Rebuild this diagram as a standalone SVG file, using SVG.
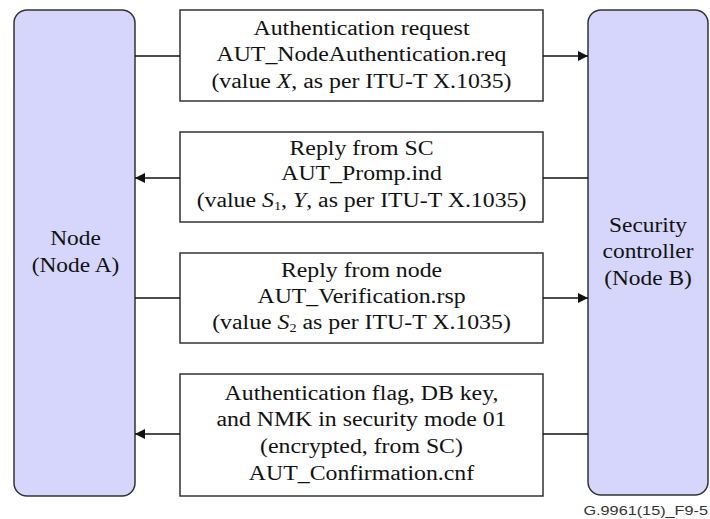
<svg xmlns="http://www.w3.org/2000/svg" width="710" height="519" viewBox="0 0 710 519">
<style>
.node{fill:#d6d6fc;stroke:#333;stroke-width:1.5}
.box{fill:#fff;stroke:#333;stroke-width:1.5}
.t{font-family:"Liberation Serif","Times New Roman",serif;font-size:20px;fill:#111;text-anchor:middle}
.c{stroke:#111;stroke-width:1.5;fill:none}
.sub{font-size:12px}
.foot{font-family:"Liberation Sans",Arial,sans-serif;font-size:12.5px;fill:#333;text-anchor:end}
</style>
<defs>
<marker id="arr" viewBox="0 0 10 10" refX="10" refY="5" markerWidth="10" markerHeight="10" markerUnits="userSpaceOnUse" orient="auto">
<path d="M0,0 L10,5 L0,10 z" fill="#111"/>
</marker>
</defs>
<g id="nodeA">
<rect class="node" x="14" y="10" width="121" height="486" rx="13"/>
<g transform="translate(75.5,0) scale(1.17,1)">
<text class="t" x="0" y="245">Node</text>
<text class="t" x="0" y="272">(Node A)</text>
</g>
</g>
<g id="nodeB">
<rect class="node" x="588" y="10" width="120" height="485" rx="13"/>
<g transform="translate(648,0) scale(1.17,1)">
<text class="t" x="0" y="232">Security</text>
<text class="t" x="0" y="258">controller</text>
<text class="t" x="0" y="285">(Node B)</text>
</g>
</g>
<g id="msg1">
<rect class="box" x="180" y="10" width="363" height="91"/>
<g transform="translate(361.5,0) scale(1.19,1)">
<text class="t" x="0" y="35">Authentication request</text>
<text class="t" x="0" y="61">AUT_NodeAuthentication.req</text>
<text class="t" x="0" y="88">(value <tspan font-style="italic">X</tspan>, as per ITU-T X.1035)</text>
</g>
</g>
<g id="msg2">
<rect class="box" x="180" y="132" width="363" height="90"/>
<g transform="translate(361.5,0) scale(1.19,1)">
<text class="t" x="0" y="155">Reply from SC</text>
<text class="t" x="0" y="180">AUT_Promp.ind</text>
<text class="t" x="0" y="207">(value <tspan font-style="italic">S</tspan><tspan class="sub" dy="3">1</tspan><tspan dy="-3">, </tspan><tspan font-style="italic">Y</tspan>, as per ITU-T X.1035)</text>
</g>
</g>
<g id="msg3">
<rect class="box" x="180" y="253" width="363" height="90"/>
<g transform="translate(361.5,0) scale(1.19,1)">
<text class="t" x="0" y="277">Reply from node</text>
<text class="t" x="0" y="303">AUT_Verification.rsp</text>
<text class="t" x="0" y="329">(value <tspan font-style="italic">S</tspan><tspan class="sub" dy="3">2</tspan><tspan dy="-3"> as per ITU-T X.1035)</tspan></text>
</g>
</g>
<g id="msg4">
<rect class="box" x="180" y="374" width="363" height="122"/>
<g transform="translate(361.5,0) scale(1.19,1)">
<text class="t" x="0" y="400">Authentication flag, DB key,</text>
<text class="t" x="0" y="426">and NMK in security mode 01</text>
<text class="t" x="0" y="453">(encrypted, from SC)</text>
<text class="t" x="0" y="480">AUT_Confirmation.cnf</text>
</g>
</g>
<g id="connectors">
<line class="c" x1="135" y1="56" x2="180" y2="56"/>
<line class="c" x1="543" y1="56" x2="588" y2="56" marker-end="url(#arr)"/>
<line class="c" x1="588" y1="178" x2="543" y2="178"/>
<line class="c" x1="180" y1="178" x2="135" y2="178" marker-end="url(#arr)"/>
<line class="c" x1="135" y1="298" x2="180" y2="298"/>
<line class="c" x1="543" y1="298" x2="588" y2="298" marker-end="url(#arr)"/>
<line class="c" x1="588" y1="434" x2="543" y2="434"/>
<line class="c" x1="180" y1="434" x2="135" y2="434" marker-end="url(#arr)"/>
</g>
<g transform="translate(708,0) scale(1.3,1)">
<text class="foot" x="0" y="515">G.9961(15)_F9-5</text>
</g>
</svg>
